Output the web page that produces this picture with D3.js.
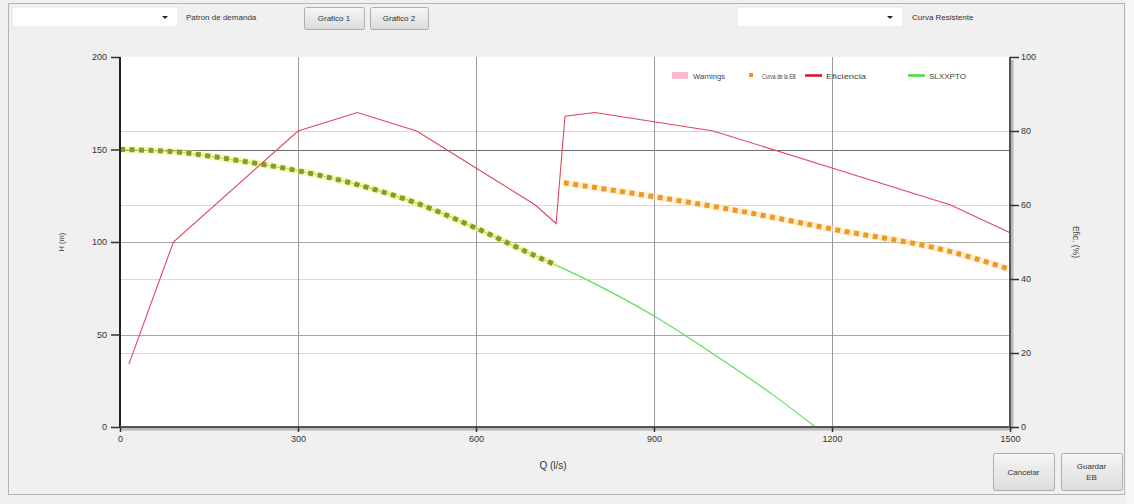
<!DOCTYPE html>
<html>
<head>
<meta charset="utf-8">
<script src="https://cdn.jsdelivr.net/npm/d3@7"></script>
<style>
  html, body { margin: 0; padding: 0; background: #f0f0f0; }
  svg { display: block; font-family: "Liberation Sans", Arial, sans-serif; }
</style>
</head>
<body>
<svg id="chart" width="1134" height="504"></svg>
<script>
// ---------------- DATA ----------------
const xTicks = [0, 300, 600, 900, 1200, 1500];
const yLeftTicks = [0, 50, 100, 150, 200];
const yRightTicks = [0, 20, 40, 60, 80, 100];
const yRightGrid = [20, 40, 60, 80];

// Eficiencia (%), right axis  [Q, %]
const eficiencia = [
  [15, 17], [90, 50], [300, 80], [400, 85], [500, 80], [600, 70], [700, 60],
  [735, 55], [750, 84], [800, 85], [900, 82.5], [1000, 80], [1200, 70], [1400, 60], [1500, 52.5]
];
// SLXXPTO (system curve), left axis [Q, H]
const slxxpto = [
  [0, 150], [100, 148.5], [200, 144], [300, 138.5], [400, 131], [500, 121], [600, 107.5],
  [700, 92.5], [735, 87.5], [800, 77.5], [900, 60], [1000, 39.5], [1100, 17.5], [1172, 0]
];
// Curva de la EB, left axis – first pump range (overlapping the system curve)
const ebCurveA = [
  [0, 150], [100, 148.5], [200, 144], [300, 138.5], [400, 131], [500, 121], [600, 107.5],
  [700, 92.5], [735, 87.5]
];
// Curva de la EB, second pump range
const ebCurveB = [
  [748, 132], [900, 124.5], [1050, 116.4], [1200, 107], [1400, 94.8], [1500, 85.2]
];

const legendItems = ["Warnings", "Curva de la EB", "Eficiencia", "SLXXPTO"];
const topLabels = ["Patron de demanda", "Curva Resistente"];
const buttonLabels = ["Grafico 1", "Grafico 2"];

// ---------------- LAYOUT ----------------
const svg = d3.select("#chart");
const plot = { left: 120, right: 1010, top: 57, bottom: 427 };

const x = d3.scaleLinear().domain([0, 1500]).range([plot.left, plot.right]);
const yL = d3.scaleLinear().domain([0, 200]).range([plot.bottom, plot.top]);
const yR = d3.scaleLinear().domain([0, 100]).range([plot.bottom, plot.top]);

// window background & frame
svg.append("rect").attr("x", 0).attr("y", 0).attr("width", 1134).attr("height", 504).attr("fill", "#f0f0f0");
svg.append("rect").attr("x", 8.5).attr("y", 3.5).attr("width", 1116).attr("height", 491)
  .attr("fill", "none").attr("stroke", "#b4b4b4");
svg.append("rect").attr("x", 1126).attr("y", 0).attr("width", 8).attr("height", 504).attr("fill", "#f7f7f7");

// --- top controls ---
function dropdown(x0, w) {
  svg.append("rect").attr("x", x0).attr("y", 7).attr("width", w).attr("height", 20)
    .attr("fill", "#ffffff").attr("stroke", "#e6e6e6");
  const ax = x0 + w - 13;
  svg.append("path").attr("d", `M${ax - 3},16 L${ax + 3},16 L${ax},19 Z`).attr("fill", "#222");
}
dropdown(12, 166);
dropdown(737, 166);
svg.append("text").attr("x", 186).attr("y", 20).attr("font-size", 8).attr("fill", "#333").text(topLabels[0]);
svg.append("text").attr("x", 912).attr("y", 20).attr("font-size", 8).attr("fill", "#333").text(topLabels[1]);

const grad = svg.append("defs").append("linearGradient").attr("id", "btn").attr("x1", 0).attr("y1", 0).attr("x2", 0).attr("y2", 1);
grad.append("stop").attr("offset", "0%").attr("stop-color", "#f6f6f6");
grad.append("stop").attr("offset", "100%").attr("stop-color", "#dcdcdc");

function button(x0, y0, w, h, lines) {
  svg.append("rect").attr("x", x0 + 0.5).attr("y", y0 + 0.5).attr("width", w).attr("height", h).attr("rx", 2)
    .attr("fill", "url(#btn)").attr("stroke", "#adadad");
  const t = svg.append("text").attr("text-anchor", "middle").attr("font-size", 8).attr("fill", "#333");
  const n = lines.length;
  lines.forEach((s, i) => {
    t.append("tspan").attr("x", x0 + w / 2).attr("y", y0 + h / 2 + 3 + (i - (n - 1) / 2) * 11).text(s);
  });
}
button(304, 7, 60, 22, [buttonLabels[0]]);
button(370, 7, 58, 22, [buttonLabels[1]]);
button(993, 453, 61, 37, ["Cancelar"]);
button(1061, 453, 61, 37, ["Guardar", "EB"]);

// --- plot area ---
svg.append("rect").attr("x", plot.left).attr("y", plot.top).attr("width", plot.right - plot.left)
  .attr("height", plot.bottom - plot.top).attr("fill", "#ffffff");

const g = svg.append("g");

// right-axis minor grid
g.selectAll(".gr").data(yRightGrid).join("line")
  .attr("x1", plot.left).attr("x2", plot.right)
  .attr("y1", d => Math.round(yR(d)) + 0.5).attr("y2", d => Math.round(yR(d)) + 0.5)
  .attr("stroke", "#d9d9d9").attr("stroke-width", 1);
// left-axis grid
g.selectAll(".gl").data(yLeftTicks.filter(d => d > 0 && d < 200)).join("line")
  .attr("x1", plot.left).attr("x2", plot.right)
  .attr("y1", d => Math.round(yL(d)) + 0.5).attr("y2", d => Math.round(yL(d)) + 0.5)
  .attr("stroke", d => d === 150 ? "#6e6e6e" : "#a8a8a8").attr("stroke-width", 1);
// vertical grid
g.selectAll(".gx").data(xTicks.filter(d => d > 0 && d < 1500)).join("line")
  .attr("x1", d => Math.round(x(d)) + 0.5).attr("x2", d => Math.round(x(d)) + 0.5)
  .attr("y1", plot.top).attr("y2", plot.bottom)
  .attr("stroke", "#9a9a9a").attr("stroke-width", 1);

// --- series ---
const lineL = d3.line().x(d => x(d[0])).y(d => yL(d[1])).curve(d3.curveMonotoneX);
const lineR = d3.line().x(d => x(d[0])).y(d => yR(d[1]));

// green system curve
g.append("path").datum(slxxpto).attr("d", lineL).attr("fill", "none")
  .attr("stroke", "#5be05b").attr("stroke-width", 1.2);

// EB curve, first range: yellow halo + olive dots
g.append("path").datum(ebCurveA).attr("d", lineL).attr("fill", "none")
  .attr("stroke", "#f2f27a").attr("stroke-width", 7).attr("stroke-opacity", 0.45);
g.append("path").datum(ebCurveA).attr("d", lineL).attr("fill", "none")
  .attr("stroke", "#8e9b22").attr("stroke-width", 5).attr("stroke-dasharray", "5,4.5");

// EB curve, second range: orange halo + orange dots
g.append("path").datum(ebCurveB).attr("d", lineL).attr("fill", "none")
  .attr("stroke", "#fde2b0").attr("stroke-width", 7).attr("stroke-opacity", 0.5);
g.append("path").datum(ebCurveB).attr("d", lineL).attr("fill", "none")
  .attr("stroke", "#ec9a22").attr("stroke-width", 5).attr("stroke-dasharray", "5,4.5");

// efficiency
g.append("path").datum(eficiencia).attr("d", lineR).attr("fill", "none")
  .attr("stroke", "#e2455a").attr("stroke-width", 1.1);

// --- axes ---
// shadows on bottom and right
svg.append("line").attr("x1", plot.left).attr("x2", plot.right + 2).attr("y1", plot.bottom + 2).attr("y2", plot.bottom + 2)
  .attr("stroke", "#b8b8b8").attr("stroke-width", 3);
svg.append("line").attr("x1", plot.right + 2).attr("x2", plot.right + 2).attr("y1", plot.top + 3).attr("y2", plot.bottom + 2)
  .attr("stroke", "#b8b8b8").attr("stroke-width", 3);

const axL = svg.append("g").attr("transform", `translate(${plot.left},0)`)
  .call(d3.axisLeft(yL).tickValues(yLeftTicks).tickSize(9).tickPadding(4).tickFormat(d3.format("d")));
const axR = svg.append("g").attr("transform", `translate(${plot.right},0)`)
  .call(d3.axisRight(yR).tickValues(yRightTicks).tickSize(9).tickPadding(2).tickFormat(d3.format("d")));
const axB = svg.append("g").attr("transform", `translate(0,${plot.bottom})`)
  .call(d3.axisBottom(x).tickValues(xTicks).tickSize(5).tickPadding(4).tickFormat(d3.format("d")));

[axL, axR, axB].forEach(a => {
  a.selectAll("text").attr("font-size", 9).attr("fill", "#333").attr("font-family", '"Liberation Sans", Arial, sans-serif');
  a.selectAll(".tick line").attr("stroke", "#333").attr("stroke-width", 1.5);
});
axL.select(".domain").attr("stroke", "#222").attr("stroke-width", 2).attr("d", `M0,${plot.top}V${plot.bottom}`);
axR.select(".domain").attr("stroke", "#555").attr("stroke-width", 2).attr("d", `M0,${plot.top}V${plot.bottom}`);
axB.select(".domain").attr("stroke", "#555").attr("stroke-width", 2).attr("d", `M${plot.left},0H${plot.right}`);

// axis titles
svg.append("text").attr("transform", `translate(64,${(plot.top + plot.bottom) / 2}) rotate(-90)`)
  .attr("text-anchor", "middle").attr("font-size", 7.5).attr("fill", "#444").text("H (m)");
svg.append("text").attr("transform", `translate(1073,${(plot.top + plot.bottom) / 2}) rotate(90)`)
  .attr("text-anchor", "middle").attr("font-size", 8.5).attr("fill", "#444").text("Efic. (%)");
svg.append("text").attr("x", (plot.left + plot.right) / 2 - 12).attr("y", 469)
  .attr("text-anchor", "middle").attr("font-size", 10).attr("fill", "#333").text("Q (l/s)");

// --- legend ---
const lg = svg.append("g").attr("font-size", 7.5).attr("fill", "#444");
const legX = [672, 748, 805, 908];
const legTextW = [32, 34, 40, 37];
// Warnings swatch
lg.append("rect").attr("x", legX[0]).attr("y", 72).attr("width", 16).attr("height", 7).attr("fill", "#f6bccb");
lg.append("text").attr("x", legX[0] + 21).attr("y", 78.5).attr("textLength", legTextW[0]).attr("lengthAdjust", "spacingAndGlyphs").text(legendItems[0]);
// EB marker
lg.append("rect").attr("x", legX[1] + 1).attr("y", 73).attr("width", 4).attr("height", 4).attr("fill", "#ec9a22");
lg.append("text").attr("x", legX[1] + 14).attr("y", 78.5).attr("textLength", legTextW[1]).attr("lengthAdjust", "spacingAndGlyphs").text(legendItems[1]);
// Eficiencia line
lg.append("line").attr("x1", legX[2]).attr("x2", legX[2] + 17).attr("y1", 75.5).attr("y2", 75.5)
  .attr("stroke", "#d8112e").attr("stroke-width", 2.5);
lg.append("text").attr("x", legX[2] + 21).attr("y", 78.5).attr("textLength", legTextW[2]).attr("lengthAdjust", "spacingAndGlyphs").text(legendItems[2]);
// SLXXPTO line
lg.append("line").attr("x1", legX[3]).attr("x2", legX[3] + 17).attr("y1", 75.5).attr("y2", 75.5)
  .attr("stroke", "#3ee03e").attr("stroke-width", 2.5);
lg.append("text").attr("x", legX[3] + 21).attr("y", 78.5).attr("textLength", legTextW[3]).attr("lengthAdjust", "spacingAndGlyphs").text(legendItems[3]);
</script>
</body>
</html>
